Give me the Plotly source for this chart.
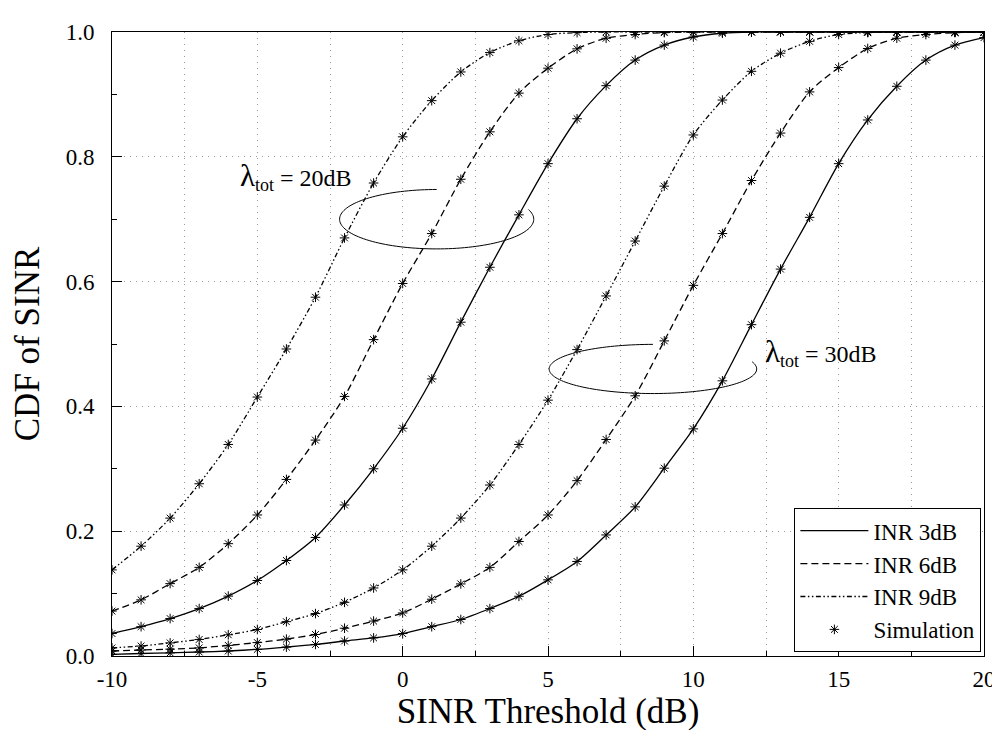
import numpy as np
import plotly.graph_objects as go

# ---------------- data ----------------
sinr_db = list(range(-10, 21))

# lambda_tot = 20 dB
l20_inr3 = [0.036, 0.047, 0.060, 0.076, 0.096, 0.121, 0.153, 0.190, 0.242, 0.300,
            0.365, 0.444, 0.535, 0.623, 0.707, 0.789, 0.861, 0.914, 0.955, 0.979,
            0.992, 0.998, 1.0, 1.0, 1.0, 1.0, 1.0, 1.0, 1.0, 1.0, 1.0]
l20_inr6 = [0.072, 0.090, 0.116, 0.142, 0.180, 0.226, 0.283, 0.346, 0.416, 0.507,
            0.597, 0.677, 0.764, 0.840, 0.902, 0.942, 0.973, 0.990, 0.996, 0.999,
            1.0, 1.0, 1.0, 1.0, 1.0, 1.0, 1.0, 1.0, 1.0, 1.0, 1.0]
l20_inr9 = [0.138, 0.176, 0.221, 0.276, 0.339, 0.415, 0.492, 0.575, 0.670, 0.758,
            0.832, 0.890, 0.936, 0.967, 0.986, 0.996, 0.999, 1.0, 1.0, 1.0,
            1.0, 1.0, 1.0, 1.0, 1.0, 1.0, 1.0, 1.0, 1.0, 1.0, 1.0]

# lambda_tot = 30 dB
l30_inr3 = [0.0026, 0.004, 0.005, 0.0064, 0.008, 0.0106, 0.0143, 0.0185, 0.024, 0.029,
            0.036, 0.047, 0.0585, 0.076, 0.0957, 0.122, 0.1515, 0.194, 0.239, 0.301,
            0.364, 0.441, 0.531, 0.620, 0.703, 0.789, 0.859, 0.913, 0.955, 0.979, 0.991]
l30_inr6 = [0.008, 0.0096, 0.011, 0.013, 0.017, 0.0215, 0.027, 0.0345, 0.0445, 0.056,
            0.069, 0.091, 0.1155, 0.142, 0.1835, 0.226, 0.281, 0.347, 0.417, 0.505,
            0.594, 0.677, 0.762, 0.838, 0.904, 0.943, 0.9736, 0.990, 0.996, 0.999, 1.0]
l30_inr9 = [0.013, 0.016, 0.021, 0.0265, 0.034, 0.0425, 0.055, 0.068, 0.086, 0.109,
            0.138, 0.176, 0.221, 0.274, 0.339, 0.410, 0.491, 0.577, 0.665, 0.753,
            0.835, 0.891, 0.937, 0.966, 0.985, 0.996, 0.999, 1.0, 1.0, 1.0, 1.0]

inr_names = ["INR 3dB", "INR 6dB", "INR 9dB"]
x_ticks = [-10, -5, 0, 5, 10, 15, 20]
y_ticks = [0.0, 0.2, 0.4, 0.6, 0.8, 1.0]

# ---------------- styling ----------------
FONT = "Liberation Serif"
dashes = ["solid", "7px,4px", "5px,2.5px,1.5px,2.5px,1.5px,2.5px"]
LW = 1.3
GRID = dict(gridcolor="#9a9a9a", griddash="1px,5px", gridwidth=1)

fig = go.Figure()

groups = [[l20_inr3, l20_inr6, l20_inr9], [l30_inr3, l30_inr6, l30_inr9]]
for g, series in enumerate(groups):
    for i, ys in enumerate(series):
        fig.add_trace(go.Scatter(
            x=sinr_db, y=ys, mode="lines", name=inr_names[i],
            line=dict(color="black", width=LW, dash=dashes[i], shape="spline", smoothing=0.8),
            showlegend=(g == 0), legendrank=i + 1,
        ))

first = True
for series in groups:
    for ys in series:
        fig.add_trace(go.Scatter(
            x=sinr_db, y=ys, mode="markers", name="Simulation",
            marker=dict(symbol="asterisk-open", size=8, color="black",
                        line=dict(color="black", width=1)),
            showlegend=first, legendrank=10,
        ))
        first = False

# ---------------- ellipse annotations ----------------
ellipses = [
    dict(cx=1.17, cy=0.700, a=3.34, b=0.0476, t0=90, t1=379),
    dict(cx=8.61, cy=0.460, a=3.57, b=0.0394, t0=90, t1=377),
]
shapes = []
for e in ellipses:
    t = np.deg2rad(np.linspace(e["t0"], e["t1"], 120))
    px = e["cx"] + e["a"] * np.cos(t)
    py = e["cy"] + e["b"] * np.sin(t)
    path = "M " + " L ".join(f"{u:.4f},{v:.5f}" for u, v in zip(px, py))
    shapes.append(dict(type="path", path=path, xref="x", yref="y",
                       line=dict(color="black", width=1)))

lam = "<span style='font-size:31px'>λ</span><sub><span style='font-size:18px'>tot</span></sub>"
labels = [
    dict(x=-5.65, y=0.768, text=lam + " = 20dB"),
    dict(x=12.40, y=0.487, text=lam + " = 30dB"),
]
annotations = [dict(x=l["x"], y=l["y"], xref="x", yref="y", text=l["text"],
                    showarrow=False, xanchor="left", yanchor="middle",
                    font=dict(family=FONT, size=24, color="black"))
               for l in labels]

fig.update_layout(
    width=1000, height=730,
    margin=dict(l=104, r=17, t=20, b=82),
    paper_bgcolor="white", plot_bgcolor="white",
    font=dict(family=FONT, color="black"),
    shapes=shapes, annotations=annotations,
    showlegend=True,
    legend=dict(x=0.997, y=0.006, xanchor="right", yanchor="bottom",
                bgcolor="white", bordercolor="black", borderwidth=1,
                font=dict(family=FONT, size=23, color="black"),
                itemwidth=68, entrywidth=120, entrywidthmode="pixels",
                tracegroupgap=0, traceorder="normal"),
)

fig.update_xaxes(
    range=[-10, 20], tickvals=x_ticks, ticktext=[str(v) for v in x_ticks],
    showline=True, linecolor="black", linewidth=1, mirror=True,
    ticks="inside", ticklen=10, tickcolor="black", tickwidth=1,
    tickfont=dict(family=FONT, size=23, color="black"), ticklabelstandoff=2,
    showgrid=True, **GRID,
    minor=dict(dtick=2.5, tick0=-10, ticks="inside", ticklen=5, tickcolor="black",
               showgrid=True, **GRID),
    zeroline=False,
    title=dict(text="SINR Threshold (dB)", font=dict(family=FONT, size=35, color="black"),
               standoff=4),
)
fig.update_yaxes(
    range=[0, 1], tickvals=y_ticks, ticktext=[f"{v:.1f}" for v in y_ticks],
    showline=True, linecolor="black", linewidth=1, mirror=True,
    ticks="inside", ticklen=10, tickcolor="black", tickwidth=1,
    tickfont=dict(family=FONT, size=23, color="black"), ticklabelstandoff=12,
    showgrid=True, **GRID,
    minor=dict(dtick=0.1, tick0=0, ticks="inside", ticklen=5, tickcolor="black",
               showgrid=False),
    zeroline=False,
    title=dict(text="CDF of SINR", font=dict(family=FONT, size=35, color="black"),
               standoff=18),
)

fig.write_html("out.html")
